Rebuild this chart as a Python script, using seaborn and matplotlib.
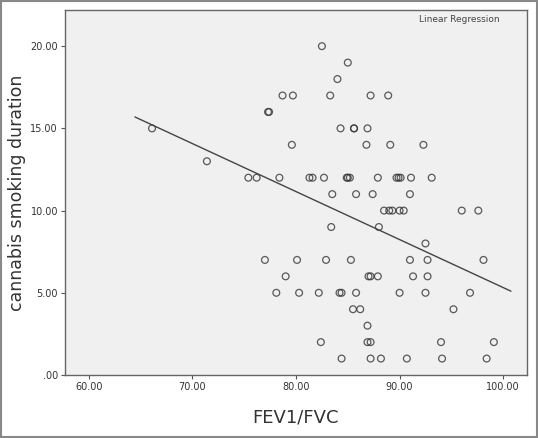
import matplotlib
matplotlib.use("Agg")
import matplotlib.pyplot as plt
import seaborn as sns
import numpy as np
import pandas as pd

fev = [82.5, 85.0, 84.0,
       78.7, 79.7, 83.3, 87.2, 88.9,
       77.3, 77.4,
       66.1, 84.3, 85.6, 85.6, 86.9,
       79.6, 86.8, 89.1, 92.3,
       71.4,
       75.4, 76.2, 78.4, 81.3, 81.6, 82.7, 84.9, 85.0, 85.2, 87.9, 89.7, 89.9, 90.1, 91.1, 93.1,
       83.5, 85.8, 87.4, 91.0,
       88.5, 89.0, 89.3, 90.0, 90.4, 96.0, 97.6,
       83.4, 88.0,
       92.5,
       77.0, 80.1, 82.9, 85.3, 91.0, 92.7, 98.1,
       79.0, 87.0, 87.2, 87.9, 91.3, 92.7,
       78.1, 80.3, 82.2, 84.2, 84.4, 85.8, 90.0, 92.5, 96.8,
       85.5, 86.2, 95.2,
       86.9,
       82.4, 86.9, 87.2, 94.0, 99.1,
       84.4, 87.2, 88.2, 90.7, 94.1, 98.4]
dur = [20, 19, 18,
       17, 17, 17, 17, 17,
       16, 16,
       15, 15, 15, 15, 15,
       14, 14, 14, 14,
       13,
       12, 12, 12, 12, 12, 12, 12, 12, 12, 12, 12, 12, 12, 12, 12,
       11, 11, 11, 11,
       10, 10, 10, 10, 10, 10, 10,
       9, 9,
       8,
       7, 7, 7, 7, 7, 7, 7,
       6, 6, 6, 6, 6, 6,
       5, 5, 5, 5, 5, 5, 5, 5, 5,
       4, 4, 4,
       3,
       2, 2, 2, 2, 2,
       1, 1, 1, 1, 1, 1]
df = pd.DataFrame({"FEV1/FVC": fev, "dur": dur})

sns.set_style("white")
fig = plt.figure(figsize=(5.38, 4.38), dpi=100)
ax = fig.add_axes([65/538, 1-375/438, 462/538, 365/438])
ax.set_facecolor("#f0f0f0")
sns.regplot(data=df, x="FEV1/FVC", y="dur", ax=ax, ci=None, truncate=False,
            scatter_kws=dict(facecolors="none", edgecolors="#333333", s=24, linewidths=0.9),
            line_kws=dict(color="#444444", lw=1))
ax.set_xlim(57.7, 102.3)
ax.set_ylim(0, 22.2)
xt = [60, 70, 80, 90, 100]
ax.set_xticks(xt)
ax.set_xticklabels([f"{v:.2f}" for v in xt], fontsize=7, color="#333333")
yt = [0, 5, 10, 15, 20]
ax.set_yticks(yt)
ax.set_yticklabels([".00", "5.00", "10.00", "15.00", "20.00"], fontsize=7, color="#333333")
ax.tick_params(length=3, pad=2, color="#555555", direction="out", left=True, bottom=True)
ax.set_xlabel("FEV1/FVC", fontsize=13, color="#333333", labelpad=12)
ax.set_ylabel("cannabis smoking duration", fontsize=12.5, color="#333333", labelpad=3)
for s in ax.spines.values():
    s.set_color("#666666"); s.set_linewidth(1)
ax.text(0.94, 0.985, "Linear Regression", transform=ax.transAxes, ha="right", va="top",
        fontsize=6.5, color="#444444")
fig.patches.append(plt.Rectangle((0.002, 0.002), 0.996, 0.996, transform=fig.transFigure,
                                 fill=False, edgecolor="#888888", lw=1.5))
fig.savefig("out.png", dpi=100)
